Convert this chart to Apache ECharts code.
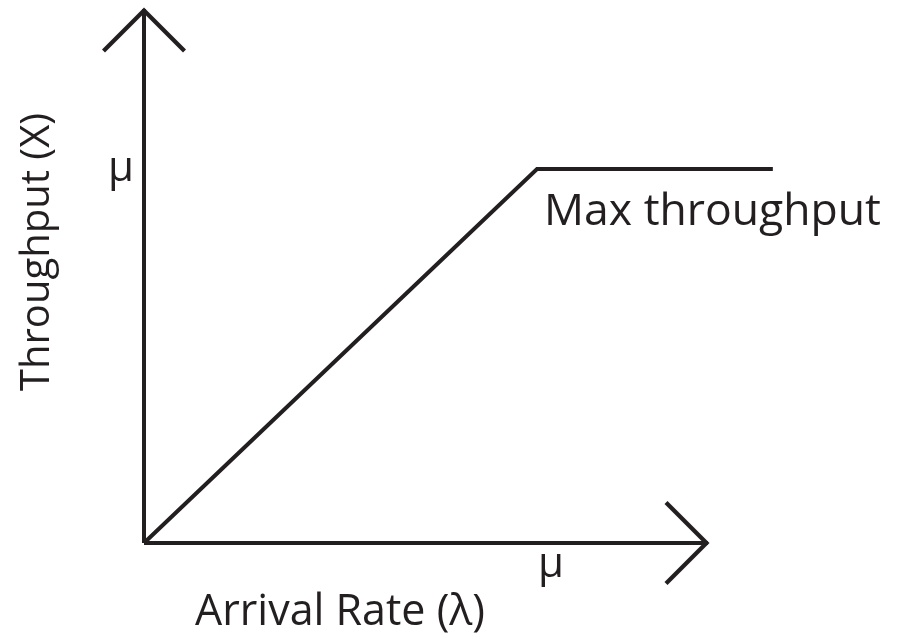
<!DOCTYPE html>
<html>
<head>
<meta charset="utf-8">
<title>Throughput vs arrival rate</title>
<script src="https://cdn.jsdelivr.net/npm/echarts@6/dist/echarts.min.js"></script>
<style>
  html, body { margin: 0; padding: 0; background: #fff; }
  #chart { width: 902px; height: 637px; }
</style>
</head>
<body>
<div id="chart"></div>
<script>
// Values in units of the service rate mu (mu = 1).
var MU = 1;
var xRange = [0, 1.435];          // arrival rate axis extent (arrow tip)
var yRange = [0, 1.428];          // throughput axis extent (arrow tip)
var arrivalRate = [0, 1, 1.6];    // lambda
var throughput = [0, 1, 1];       // X = min(lambda, mu)
var tickLabel = 'μ';
var curveLabel = 'Max throughput';

var INK = '#231f20';
var FONT = '"Open Sans", sans-serif';

// axes grid in px
var GRID = { left: 144, right: 194, top: 9, bottom: 94, outerBoundsMode: 'none' };
var PLOT_W = 902 - GRID.left - GRID.right;

// open chevron drawn as a filled outline, pointing up (ECharts rotates it)
var chevron = 'path://M41,0 L83,42 L80,45 L41,6 L2,45 L-1,42 Z';

var points = arrivalRate.map(function (x, i) {
    return [x, throughput[i]];
});

// The plateau runs past the arrow tip, so the curve lives in a second,
// wider grid with the same scale (the first grid only carries the axes).
var dataMaxX = Math.max.apply(null, arrivalRate);
var dataW = PLOT_W * dataMaxX / xRange[1];

function axisBase(range) {
    return {
        type: 'value',
        min: range[0],
        max: range[1],
        interval: MU,
        splitLine: { show: false },
        axisTick: { show: false },
        axisLine: {
            show: true,
            symbol: ['none', chevron],
            symbolSize: [84, 45],
            symbolOffset: [0, -21],
            lineStyle: { color: INK, width: 4, cap: 'butt' }
        },
        nameTextStyle: { color: INK, fontFamily: FONT, fontSize: 43 },
        axisLabel: {
            color: INK,
            fontFamily: FONT,
            fontSize: 42,
            showMinLabel: false,
            showMaxLabel: false,
            formatter: function (v) { return v === MU ? tickLabel : ''; }
        }
    };
}

function hiddenAxis(range, gridIndex) {
    return {
        type: 'value', gridIndex: gridIndex,
        min: range[0], max: range[1],
        show: false
    };
}

var xAxis = axisBase(xRange);
xAxis.name = 'Arrival Rate (λ)';
xAxis.nameLocation = 'middle';
xAxis.nameGap = 43;
xAxis.nameTextStyle.padding = [0, 172, 0, 0];
xAxis.axisLabel.margin = 1;
xAxis.axisLabel.padding = [0, 0, 0, 28];

var yAxis = axisBase(yRange);
yAxis.name = 'Throughput (X)';
yAxis.nameLocation = 'middle';
yAxis.nameRotate = 90;
yAxis.nameGap = 86;
yAxis.nameTextStyle.fontSize = 40;
yAxis.nameTextStyle.padding = [0, 0, 0, 48];
yAxis.axisLabel.margin = 10;

var chart = echarts.init(document.getElementById('chart'), null, { renderer: 'canvas' });
chart.setOption({
    animation: false,
    backgroundColor: '#ffffff',
    grid: [
        GRID,
        { left: GRID.left, top: GRID.top, bottom: GRID.bottom, width: dataW, outerBoundsMode: 'none' }
    ],
    xAxis: [xAxis, hiddenAxis([xRange[0], dataMaxX], 1)],
    yAxis: [yAxis, hiddenAxis(yRange, 1)],
    series: [{
        type: 'line',
        xAxisIndex: 1,
        yAxisIndex: 1,
        data: points,
        clip: false,
        showSymbol: false,
        symbol: 'none',
        lineStyle: { color: INK, width: 4, join: 'miter' },
        markPoint: {
            symbol: 'circle',
            symbolSize: 2,
            itemStyle: { color: 'transparent' },
            data: [{
                coord: points[1],
                label: {
                    show: true,
                    formatter: curveLabel,
                    position: 'right',
                    distance: 6,
                    offset: [0, 43],
                    color: INK,
                    fontFamily: FONT,
                    fontSize: 44.5
                }
            }]
        }
    }]
});
</script>
</body>
</html>
